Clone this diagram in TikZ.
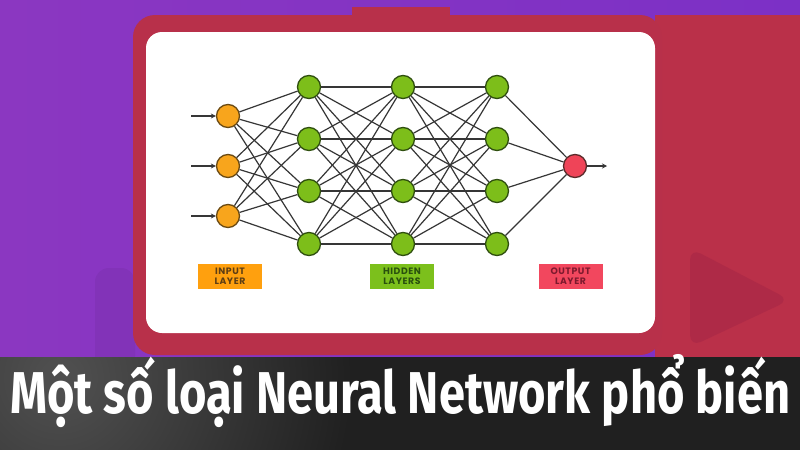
\documentclass[tikz,border=0pt]{standalone}
\usepackage{fontspec}
\usepackage{graphicx}
\usetikzlibrary{arrows.meta}
\newfontfamily\titlefont{Fira Sans}
\newfontfamily\labfont{Poppins}[LetterSpace=6]
\definecolor{purA}{HTML}{8B37C1}
\definecolor{purB}{HTML}{7C30C6}
\definecolor{crim}{HTML}{B8304A}
\definecolor{crimR}{HTML}{BA3049}
\definecolor{crimD}{HTML}{AE2A47}
\definecolor{bannerD}{HTML}{202020}
\definecolor{edgec}{HTML}{363636}
\definecolor{orgF}{HTML}{F8A51C}
\definecolor{orgB}{HTML}{6B4A12}
\definecolor{grnF}{HTML}{7DBE1A}
\definecolor{grnB}{HTML}{2F4F0F}
\definecolor{redF}{HTML}{EF4458}
\definecolor{redB}{HTML}{5A2A2A}
\definecolor{boxO}{HTML}{FFA00E}
\definecolor{boxG}{HTML}{7CC01C}
\definecolor{boxR}{HTML}{F2475E}
\definecolor{txtO}{HTML}{5E3E14}
\definecolor{txtG}{HTML}{29500E}
\definecolor{txtR}{HTML}{7E1A2E}
\tikzset{
  neuron/.style={circle, minimum size=23pt, inner sep=0pt, line width=1.3pt},
  inneuron/.style={neuron, fill=orgF, draw=orgB},
  hidneuron/.style={neuron, fill=grnF, draw=grnB},
  outneuron/.style={neuron, fill=redF, draw=redB},
  link/.style={draw=edgec, line width=1.2pt},
  feed/.style={draw=edgec, line width=1.8pt, -{Stealth[length=5pt,width=5pt]}},
  labbox/.style={rectangle, minimum width=64pt, minimum height=25pt, inner sep=0pt,
    align=center, font=\labfont\bfseries\fontsize{9.3}{10}\selectfont},
}
\begin{document}
\begin{tikzpicture}[x=1pt,y=-1pt]
\useasboundingbox (0,0) rectangle (800,450);
% background
\shade[left color=purA, right color=purB] (0,0) rectangle (800,357);
\fill[crimR] (655,15) rectangle (800,357);
\fill[crimD, rounded corners=12pt] (690,248) -- (790,300) -- (690,347) -- cycle;
\fill[black, opacity=0.05, rounded corners=14pt] (95,268) rectangle (135,370);
% frame
\fill[crim] (352,7) rectangle (450,20);
\fill[crim, rounded corners=22pt] (133,15) rectangle (662,355);
\fill[white, rounded corners=16pt] (146,32) rectangle (655,333);
% banner
\fill[bannerD] (0,357) rectangle (800,450);
\begin{scope}
\clip (0,357) rectangle (800,450);
\foreach \r in {20,26,...,290}{\fill[white, opacity=0.0065] (60,378) circle (\r);}
\end{scope}
% neurons
\node[inneuron] (i1) at (228,116) {};
\node[inneuron] (i2) at (228,166) {};
\node[inneuron] (i3) at (228,216) {};
\foreach \c/\x in {a/309,b/403,c/497}{
  \node[hidneuron] (\c1) at (\x,87) {};
  \node[hidneuron] (\c2) at (\x,139) {};
  \node[hidneuron] (\c3) at (\x,191) {};
  \node[hidneuron] (\c4) at (\x,244) {};
}
\node[outneuron] (o) at (575,166) {};
% connections
\foreach \i in {1,2,3}{\foreach \j in {1,2,3,4}{\draw[link] (i\i) -- (a\j);}}
\foreach \i in {1,2,3,4}{\foreach \j in {1,2,3,4}{\draw[link] (a\i) -- (b\j); \draw[link] (b\i) -- (c\j);}}
\foreach \i in {1,2,3,4}{\draw[link] (c\i) -- (o);}
% input / output arrows
\coordinate (f1) at (191,116);
\coordinate (f2) at (191,166);
\coordinate (f3) at (191,216);
\coordinate (fo) at (607,166);
\foreach \i in {1,2,3}{\draw[feed] (f\i) -- (i\i);}
\draw[feed, line width=1.3pt] (o) -- (fo);
% labels
\node[labbox, fill=boxO, text=txtO] (lin) at (230,276.5) {INPUT\\LAYER};
\node[labbox, fill=boxG, text=txtG] (lhid) at (402,276.5) {HIDDEN\\LAYERS};
\node[labbox, fill=boxR, text=txtR] (lout) at (570.5,276.5) {OUTPUT\\LAYER};
% title
\node[anchor=base west, inner sep=0pt, text=white] (title) at (10,413)
  {\resizebox{780pt}{\height}{\titlefont\bfseries\fontsize{59}{60}\selectfont Một số loại Neural Network phổ biến}};
\end{tikzpicture}
\end{document}
